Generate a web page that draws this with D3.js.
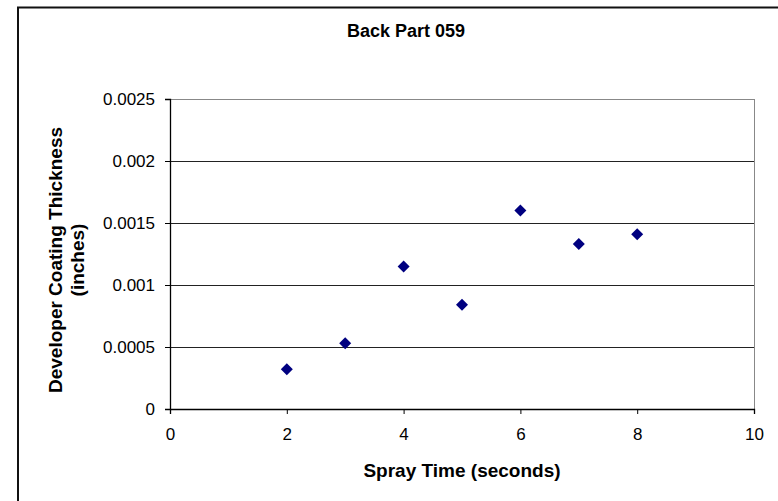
<!DOCTYPE html>
<html>
<head>
<meta charset="utf-8">
<script src="https://cdn.jsdelivr.net/npm/d3@7"></script>
<style>
  html, body { margin: 0; padding: 0; background: #fff; }
  svg { display: block; font-family: "Liberation Sans", Arial, sans-serif; }
</style>
</head>
<body>
<svg id="chart" width="778" height="501"></svg>
<script>
const chartTitle = "Back Part 059";
const xTitle = "Spray Time (seconds)";
const yTitleLines = ["Developer Coating Thickness", "(inches)"];
const sprayTime = [2, 3, 4, 5, 6, 7, 8];
const thickness = [0.00032, 0.00053, 0.00115, 0.00084, 0.00160, 0.00133, 0.00141];
const xTicks = [0, 2, 4, 6, 8, 10];
const yTicks = [0, 0.0005, 0.001, 0.0015, 0.002, 0.0025];
const yTickLabels = ["0", "0.0005", "0.001", "0.0015", "0.002", "0.0025"];

const svg = d3.select("#chart");
const plot = { left: 170, right: 754, top: 99, bottom: 409 };

const x = d3.scaleLinear().domain([0, 10]).range([plot.left, plot.right]);
const y = d3.scaleLinear().domain([0, 0.0025]).range([plot.bottom, plot.top]);

// chart area border (extends beyond the visible frame)
svg.append("rect")
  .attr("x", 18).attr("y", 7.5)
  .attr("width", 820).attr("height", 540)
  .attr("fill", "none").attr("stroke", "#111").attr("stroke-width", 2);

// gridlines
svg.append("g").selectAll("line")
  .data(yTicks.filter(d => d > 0 && d < 0.0025))
  .join("line")
  .attr("x1", plot.left).attr("x2", plot.right)
  .attr("y1", d => Math.round(y(d)) + 0.5).attr("y2", d => Math.round(y(d)) + 0.5)
  .attr("stroke", "#222").attr("stroke-width", 1);

// plot border top/right gray
svg.append("line")
  .attr("x1", plot.left).attr("x2", plot.right)
  .attr("y1", y(0.0025) + 0.5).attr("y2", y(0.0025) + 0.5)
  .attr("stroke", "#888").attr("stroke-width", 1);
svg.append("line")
  .attr("x1", plot.right + 0.5).attr("x2", plot.right + 0.5)
  .attr("y1", plot.top).attr("y2", plot.bottom)
  .attr("stroke", "#888").attr("stroke-width", 1);

// axes
const xAxis = d3.axisBottom(x).tickValues(xTicks).tickSize(5).tickPadding(14).tickFormat(d3.format("d"));
const gx = svg.append("g").attr("transform", `translate(0,${plot.bottom})`).call(xAxis);
const yAxis = d3.axisLeft(y).tickValues(yTicks).tickSize(5).tickPadding(10)
  .tickFormat((d, i) => yTickLabels[i]);
const gy = svg.append("g").attr("transform", `translate(${plot.left},0)`).call(yAxis);

[gx, gy].forEach(g => {
  g.select(".domain").attr("stroke", "#000").attr("stroke-width", 1.3);
  g.selectAll(".tick line").attr("stroke", "#000");
  g.selectAll(".tick text").attr("fill", "#000").style("font-size", "17px")
    .style("font-family", "'Liberation Sans', Arial, sans-serif");
});

// markers (diamonds)
const r = 6;
svg.append("g").selectAll("path")
  .data(sprayTime.map((t, i) => [t, thickness[i]]))
  .join("path")
  .attr("d", d => {
    const cx = x(d[0]), cy = y(d[1]);
    return `M${cx},${cy - r}L${cx + r},${cy}L${cx},${cy + r}L${cx - r},${cy}Z`;
  })
  .attr("fill", "#000080");

// titles
svg.append("text")
  .attr("x", 406).attr("y", 37)
  .attr("text-anchor", "middle")
  .style("font-size", "18px").style("font-weight", "bold")
  .text(chartTitle);

svg.append("text")
  .attr("x", (plot.left + plot.right) / 2).attr("y", 477)
  .attr("text-anchor", "middle")
  .style("font-size", "19px").style("font-weight", "bold")
  .text(xTitle);

const yt = svg.append("text")
  .attr("transform", `translate(62,${(plot.top + plot.bottom) / 2 + 6}) rotate(-90)`)
  .attr("text-anchor", "middle")
  .style("font-size", "19px").style("font-weight", "bold");
yTitleLines.forEach((line, i) => {
  yt.append("tspan").attr("x", 0).attr("dy", i === 0 ? 0 : 22).text(line);
});
</script>
</body>
</html>
